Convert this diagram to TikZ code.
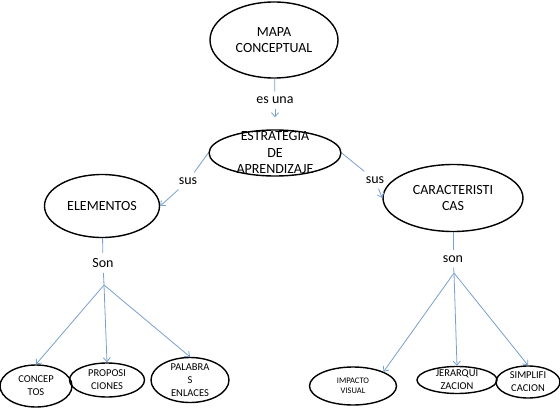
\documentclass[tikz,border=0pt]{standalone}
\usepackage{fontspec}
\setmainfont{Carlito}
\usetikzlibrary{shapes}
\usetikzlibrary{arrows,arrows.meta}
\definecolor{linkblue}{RGB}{120,160,205}

\begin{document}
\begin{tikzpicture}[x=1pt,y=-1pt]
\tikzset{vertex/.style = {shape=ellipse,draw,line width=1.4pt,inner xsep=0pt,inner ysep=-10pt,align=center,font=\fontsize{14}{16.5}\selectfont}}
\tikzset{small/.style = {font=\fontsize{10.5}{13}\selectfont}}
\tikzset{word/.style = {inner sep=5pt,font=\fontsize{14}{16}\selectfont}}
\tikzset{joint/.style = {draw=linkblue,line width=0.8pt}}
\tikzset{edge/.style = {joint,->,> = {Straight Barb[length=4pt,width=7pt]}}}
\useasboundingbox (0,0) rectangle (560,420);
\node[vertex,minimum width=128pt,minimum height=76pt] (mapa) at (274,40) {MAPA\\CONCEPTUAL};
\node[vertex,minimum width=132pt,minimum height=46pt] (estr) at (275,153) {ESTRATEGIA\\DE\\APRENDIZAJE};
\node[vertex,minimum width=115pt,minimum height=63pt] (elem) at (102,206) {ELEMENTOS};
\node[vertex,minimum width=140pt,minimum height=67pt] (carac) at (453,198) {CARACTERISTI\\CAS};
\node[vertex,small,minimum width=72pt,minimum height=42pt] (concep) at (36,386) {CONCEP\\TOS};
\node[vertex,small,minimum width=75pt,minimum height=34pt] (propo) at (107,380) {PROPOSI\\CIONES};
\node[vertex,small,minimum width=78pt,minimum height=45pt] (pal) at (190,380) {PALABRA\\S\\ENLACES};
\node[vertex,minimum width=87pt,minimum height=38pt,font=\fontsize{8.5}{10.5}\selectfont] (imp) at (353,386) {IMPACTO\\VISUAL};
\node[vertex,small,minimum width=80pt,minimum height=27pt] (jer) at (457,380) {JERARQUI\\ZACION};
\node[vertex,small,minimum width=64pt,minimum height=32pt] (simp) at (528,382) {SIMPLIFI\\CACION};

\node[word] (esuna) at (275,100) {es una};
\node[word] (sus1) at (188,181) {sus};
\node[word] (sus2) at (375,180) {sus};
\node[word] (son1) at (103,263) {Son};
\node[word] (son2) at (453,259) {son};
\coordinate (fan1) at (104,285);
\coordinate (fan2) at (454,273);

\draw[joint] (mapa) -- (esuna);
\draw[edge,shorten >=12pt] (esuna) -- (estr);
\draw[joint] (estr.west) -- (sus1);
\draw[edge] (sus1) -- (elem.east);
\draw[joint] (estr.east) -- (sus2);
\draw[edge] (sus2) -- (carac.west);
\draw[joint] (elem) -- (son1);
\draw[joint] (son1) -- (fan1);
\draw[edge] (fan1) -- (concep.north);
\draw[edge] (fan1) -- (propo.north);
\draw[edge] (fan1) -- (pal.north);
\draw[joint] (carac) -- (son2);
\draw[joint] (son2) -- (fan2);
\draw[edge] (fan2) -- (imp.25);
\draw[edge] (fan2) -- (jer.north);
\draw[edge] (fan2) -- (simp.north);
\end{tikzpicture}
\end{document}
